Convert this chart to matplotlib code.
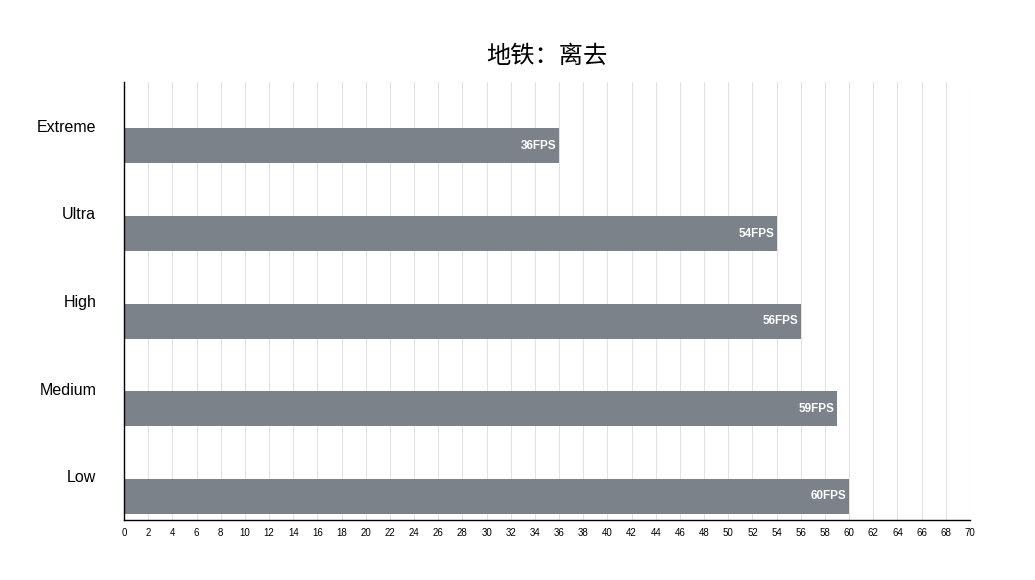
import matplotlib.pyplot as plt
import numpy as np

categories = ["Extreme", "Ultra", "High", "Medium", "Low"]
fps = [36, 54, 56, 59, 60]
x_ticks = list(range(0, 71, 2))

plt.rcParams["font.family"] = ["Noto Sans CJK SC", "DejaVu Sans"]

fig = plt.figure(figsize=(10.35, 5.8), dpi=100)
ax = fig.add_axes([124 / 1035, 60 / 580, 846 / 1035, 438 / 580])

pos = np.arange(len(categories)) + 0.5
bars = ax.barh(pos + 0.23, fps, height=0.4, color="#7c828a", zorder=2)
for b, v in zip(bars, fps):
    ax.text(v - 0.2, b.get_y() + b.get_height() / 2, f"{v}FPS",
            color="white", fontsize=8.5, fontweight="bold", ha="right", va="center",
            family=["Liberation Sans", "DejaVu Sans"], zorder=3)

ax.set_xlim(0, 70)
ax.set_ylim(len(categories), 0)
ax.set_xticks(x_ticks)
ax.set_xticklabels([str(t) for t in x_ticks], fontsize=7,
                   family=["Liberation Sans", "DejaVu Sans"])
ax.set_yticks(pos)
ax.set_yticklabels(categories, fontsize=11.5, family=["Liberation Sans", "DejaVu Sans"])
ax.tick_params(axis="y", length=0, pad=20)
ax.tick_params(axis="x", length=0, pad=6)
ax.xaxis.grid(True, color="#e2e2e2", linewidth=0.8, zorder=0)
ax.set_axisbelow(True)
for s in ["top", "right"]:
    ax.spines[s].set_visible(False)
ax.spines["left"].set_color("black")
ax.spines["bottom"].set_color("black")
ax.spines["left"].set_linewidth(1)
ax.spines["bottom"].set_linewidth(1)

fig.text(547 / 1035, 1 - 56 / 580, "地铁：离去", fontsize=17.5, ha="center", va="center")

plt.savefig("out.png", dpi=100, facecolor="white")
